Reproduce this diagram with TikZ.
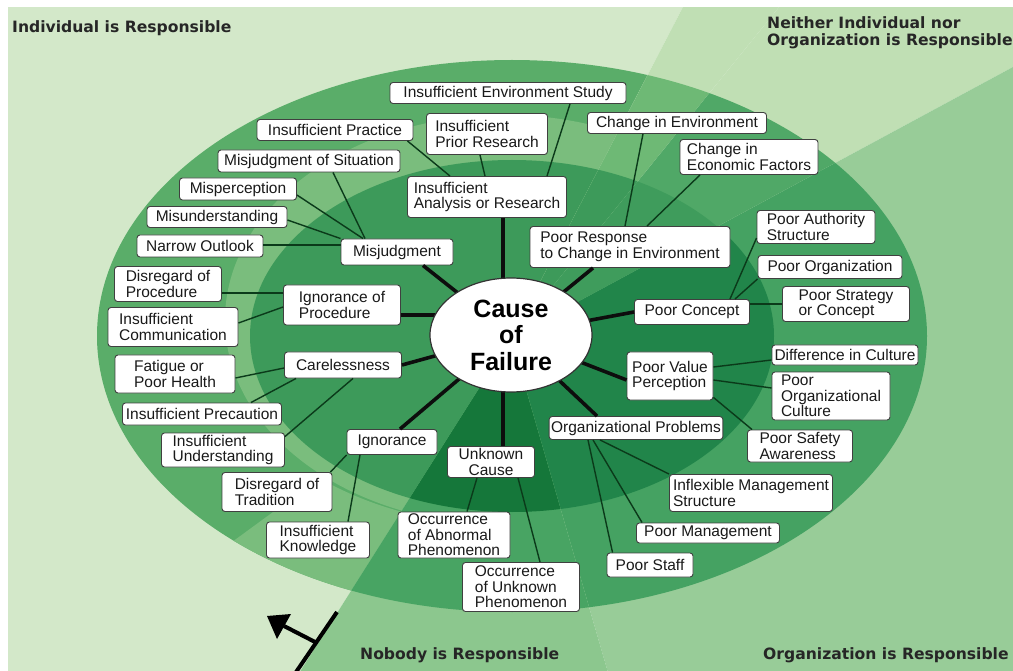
\documentclass[tikz,border=0pt]{standalone}
\usepackage{fontspec}
\setmainfont{Liberation Sans}
\newfontfamily\cornerfont{DejaVu Sans}
\usetikzlibrary{calc,shapes.geometric}
\definecolor{bgInd}{HTML}{D3E8C9}
\definecolor{bgNei}{HTML}{C0DFB4}
\definecolor{bgOrg}{HTML}{98CC98}
\definecolor{bgNob}{HTML}{8CC78E}
\definecolor{ringInd}{HTML}{5AAD69}
\definecolor{ringLight}{HTML}{7ABD7D}
\definecolor{ringNeiA}{HTML}{6EB975}
\definecolor{ringNeiB}{HTML}{50A867}
\definecolor{ringOrg}{HTML}{45A262}
\definecolor{ringNob}{HTML}{48A463}
\definecolor{inInd}{HTML}{3D9A5A}
\definecolor{inNeiB}{HTML}{3F9C5C}
\definecolor{inOrg}{HTML}{21854A}
\definecolor{inNob}{HTML}{15773A}
\definecolor{linkc}{HTML}{0B3A1A}
\begin{document}
\begin{tikzpicture}[x=1pt,y=-1pt,
  lbl/.style={draw=black!75, line width=0.9pt, fill=white, rounded corners=3pt,
    inner xsep=2pt, inner ysep=1pt, align=left,
    font=\fontsize{15.5}{15.5}\selectfont, text=black!90},
  majorlink/.style={line width=3.6pt, color=black!95},
  minorlink/.style={line width=1.4pt, color=linkc},
  corner/.style={font=\cornerfont\bfseries\fontsize{15.6}{17}\selectfont,
    text=black!85, align=left, inner sep=0pt}
]
\useasboundingbox (0,0) rectangle (1013,671);
\fill[white] (0,0) rectangle (1013,671);

% ---------- background sectors and rings ----------
\begin{scope}
\clip (8,8) rectangle (1013,671);
% Individual
\begin{scope}
\clip (511,338) -- (282,700) -- (-20,700) -- (-20,-20) -- (697,-20) -- cycle;
\fill[bgInd] (0,0) rectangle (1013,671);
\fill[ringInd] (512,336) ellipse [x radius=415, y radius=276];
\fill[ringLight] (505,320) ellipse [x radius=280, y radius=205];
\begin{scope}
\clip (511,338) -- (150,602) -- (282,700) -- cycle;
\fill[ringLight, even odd rule] (512,336) ellipse [x radius=415, y radius=276]
   (512,336) ellipse [x radius=290, y radius=190];
\end{scope}
\fill[inInd] (512,336) ellipse [x radius=262, y radius=176];
\end{scope}
% Neither, part near the individual side
\begin{scope}
\clip (511,338) -- (697,-20) -- (801,-20) -- cycle;
\fill[bgNei] (0,0) rectangle (1013,671);
\fill[ringNeiA] (512,336) ellipse [x radius=415, y radius=276];
\fill[inInd] (512,336) ellipse [x radius=262, y radius=176];
\end{scope}
% Neither, part near the organization side
\begin{scope}
\clip (511,338) -- (801,-20) -- (1100,-20) -- (1100,20) -- cycle;
\fill[bgNei] (0,0) rectangle (1013,671);
\fill[ringNeiB] (512,336) ellipse [x radius=415, y radius=276];
\fill[inNeiB] (512,336) ellipse [x radius=262, y radius=176];
\end{scope}
% Organization
\begin{scope}
\clip (511,338) -- (1100,20) -- (1100,700) -- (616,700) -- cycle;
\fill[bgOrg] (0,0) rectangle (1013,671);
\fill[ringOrg] (512,336) ellipse [x radius=415, y radius=276];
\fill[inOrg] (512,336) ellipse [x radius=262, y radius=176];
\end{scope}
% Nobody
\begin{scope}
\clip (511,338) -- (616,700) -- (282,700) -- cycle;
\fill[bgNob] (0,0) rectangle (1013,671);
\fill[ringNob] (512,336) ellipse [x radius=415, y radius=276];
\fill[inNob] (512,336) ellipse [x radius=262, y radius=176];
\end{scope}
\end{scope}

% ---------- corner labels ----------
\node[corner, anchor=base west] (tInd) at (12,33) {Individual is Responsible};
\node[corner, anchor=north west] (tNei) at (767,16) {Neither Individual nor\\Organization is Responsible};
\node[corner, anchor=base west] (tNob) at (360,659) {Nobody is Responsible};
\node[corner, anchor=base west] (tOrg) at (763,659) {Organization is Responsible};

% ---------- boundary marker ----------
\coordinate (bm1) at (292,678);
\coordinate (bm2) at (337,612);
\draw[line width=4pt] (bm1) -- (bm2);
\coordinate (ab) at (317,643);
\coordinate (hb) at (284,626);
\coordinate (at) at (267,616);
\coordinate (hc1) at (291,614);
\coordinate (hc2) at (277,639);
\draw[line width=4pt] (ab) -- (hb);
\fill (at) -- (hc1) -- (hc2) -- cycle;

% ---------- label boxes ----------
\node[lbl, minimum width=236, minimum height=21] (ies) at (508,93) {Insufficient Environment Study};
\node[lbl, minimum width=156, minimum height=21] (ipr) at (335,130) {Insufficient Practice};
\node[lbl, minimum width=121, minimum height=41] (iprr) at (487,134) {Insufficient\\Prior Research};
\node[lbl, minimum width=182, minimum height=22] (mos) at (309,161) {Misjudgment of Situation};
\node[lbl, minimum width=117, minimum height=22] (mp) at (238,189) {Misperception};
\node[lbl, minimum width=140, minimum height=21] (mu) at (217,217) {Misunderstanding};
\node[lbl, minimum width=126, minimum height=22] (no) at (200,246) {Narrow Outlook};
\node[lbl, minimum width=107, minimum height=35] (dp) at (168,284) {Disregard of\\Procedure};
\node[lbl, minimum width=130, minimum height=39] (ic) at (173,327) {Insufficient\\Communication};
\node[lbl, minimum width=120, minimum height=38] (fph) at (175,374) {Fatigue or\\Poor Health};
\node[lbl, minimum width=159, minimum height=22] (ipc) at (202,414) {Insufficient Precaution};
\node[lbl, minimum width=123, minimum height=34] (iu) at (223,450) {Insufficient\\Understanding};
\node[lbl, minimum width=110, minimum height=39] (dt) at (277,492) {Disregard of\\Tradition};
\node[lbl, minimum width=103, minimum height=36] (ik) at (318,540) {Insufficient\\Knowledge};
\node[lbl, minimum width=112, minimum height=26] (misj) at (397,252) {Misjudgment};
\node[lbl, minimum width=117, minimum height=40] (iop) at (342,305) {Ignorance of\\Procedure};
\node[lbl, minimum width=117, minimum height=26] (care) at (343,365) {Carelessness};
\node[lbl, minimum width=90, minimum height=25] (ign) at (392,442) {Ignorance};
\node[lbl, minimum width=87, minimum height=31, align=center] (uc) at (491,462) {Unknown\\Cause};
\node[lbl, minimum width=159, minimum height=41] (iar) at (487,197) {Insufficient\\Analysis or Research};
\node[lbl, minimum width=200, minimum height=41] (prc) at (630,247) {Poor Response\\to Change in Environment};
\node[lbl, minimum width=115, minimum height=25] (pc) at (692,312) {Poor Concept};
\node[lbl, minimum width=86, minimum height=48] (pvp) at (670,376) {Poor Value\\Perception};
\node[lbl, minimum width=172, minimum height=23] (op) at (636,428) {Organizational Problems};
\node[lbl, minimum width=179, minimum height=21] (cie) at (677,123) {Change in Environment};
\node[lbl, minimum width=138, minimum height=35] (cef) at (749,157) {Change in\\Economic Factors};
\node[lbl, minimum width=118, minimum height=33] (pas) at (816,227) {Poor Authority\\Structure};
\node[lbl, minimum width=144, minimum height=23] (porg) at (830,267) {Poor Organization};
\node[lbl, minimum width=127, minimum height=35] (psc) at (846,304) {Poor Strategy\\or Concept};
\node[lbl, minimum width=146, minimum height=20] (dic) at (845,355) {Difference in Culture};
\node[lbl, minimum width=118, minimum height=48] (poc) at (831,396) {Poor\\Organizational\\Culture};
\node[lbl, minimum width=105, minimum height=32] (psa) at (800,446) {Poor Safety\\Awareness};
\node[lbl, minimum width=163, minimum height=37] (imn) at (751,493) {Inflexible Management\\Structure};
\node[lbl, minimum width=143, minimum height=20] (pm) at (708,533) {Poor Management};
\node[lbl, minimum width=86, minimum height=24] (ps) at (650,565) {Poor Staff};
\node[lbl, minimum width=112, minimum height=46] (oap) at (454,535) {Occurrence\\of Abnormal\\Phenomenon};
\node[lbl, minimum width=117, minimum height=49] (oup) at (521,587) {Occurrence\\of Unknown\\Phenomenon};

% ---------- minor connectors ----------
\draw[minorlink] ([xshift=24pt]mos.south) -- ([xshift=-32pt]misj.north);
\draw[minorlink] ([yshift=-6pt]mp.east) -- ([xshift=-34pt]misj.north);
\draw[minorlink] ([yshift=-3pt]mu.east) -- (misj.north west);
\draw[minorlink] ([yshift=1pt]no.east) -- ([yshift=1pt]no.east -| misj.west);
\draw[minorlink] ([xshift=-6pt]ipr.south east) -- ([xshift=-37pt]iar.north);
\draw[minorlink] ([xshift=-7pt]iprr.south) -- ([xshift=-2pt]iar.north);
\draw[minorlink] ([xshift=62pt]ies.south) -- ([xshift=60pt]iar.north);
\draw[minorlink] ([xshift=-34pt]cie.south) -- ([xshift=-5pt]prc.north);
\draw[minorlink] ([xshift=-49pt]cef.south) -- ([xshift=17pt]prc.north);
\draw[minorlink] ([yshift=-11pt]pas.west) -- ([xshift=38pt]pc.north);
\draw[minorlink] (porg.south west) -- ([xshift=43pt]pc.north);
\draw[minorlink] (psc.west) -- (psc.west -| pc.east);
\draw[minorlink] ([yshift=-5pt]dic.west) -- ([yshift=9pt]pvp.east);
\draw[minorlink] ([yshift=8pt]poc.west) -- ([yshift=-4pt]pvp.east);
\draw[minorlink] ([xshift=5pt]psa.north west) -- ([yshift=3pt]pvp.south east);
\draw[minorlink] ([xshift=-36pt]op.south) -- (imn.north west);
\draw[minorlink] ([xshift=-43pt]op.south) -- ([xshift=6pt]pm.north west);
\draw[minorlink] ([xshift=-48pt]op.south) -- ([xshift=6pt]ps.north west);
\draw[minorlink] ([xshift=-14pt]uc.south) -- ([xshift=13pt]oap.north);
\draw[minorlink] ([xshift=27pt]uc.south) -- ([xshift=19pt]oup.north);
\draw[minorlink] (ign.south west) -- ([xshift=-2pt]dt.north east);
\draw[minorlink] ([xshift=-32pt]ign.south) -- ([xshift=30pt]ik.north);
\draw[minorlink] ([yshift=12pt]iop.west) -- ([yshift=12pt]iop.west -| dp.east);
\draw[minorlink] ([yshift=4pt]ic.east) -- ([yshift=-2pt]iop.west);
\draw[minorlink] ([yshift=-4pt]fph.east) -- ([yshift=-3pt]care.west);
\draw[minorlink] ([xshift=-31pt]ipc.north east) -- ([xshift=12pt]care.south west);
\draw[minorlink] ([yshift=-4pt]iu.north east) -- ([xshift=10pt]care.south);

% ---------- major connectors ----------
\coordinate (c0) at (511,335);
\draw[majorlink] (c0) -- ([xshift=26pt]misj.south);
\draw[majorlink] ([yshift=-10pt]iop.east) -- ([yshift=-10pt]iop.east -| c0);
\draw[majorlink] (c0) -- (care.east);
\draw[majorlink] (c0) -- ([xshift=8pt]ign.north);
\draw[majorlink] ([xshift=12pt]uc.north) -- ([xshift=12pt]uc.north |- c0);
\draw[majorlink] ([xshift=16pt]iar.south) -- ([xshift=16pt]iar.south |- c0);
\draw[majorlink] (c0) -- ([xshift=-37pt]prc.south);
\draw[majorlink] (c0) -- (pc.west);
\draw[majorlink] (c0) -- ([yshift=-4pt]pvp.west);
\draw[majorlink] (c0) -- ([xshift=-39pt]op.north);

% ---------- centre ----------
\node[ellipse, draw=black!80, line width=1.2pt, fill=white, minimum width=162, minimum height=114,
  inner sep=0pt, align=center, font=\bfseries\fontsize{25}{26.5}\selectfont] (cause) at (c0)
  {Cause\\of\\Failure};
\end{tikzpicture}
\end{document}
